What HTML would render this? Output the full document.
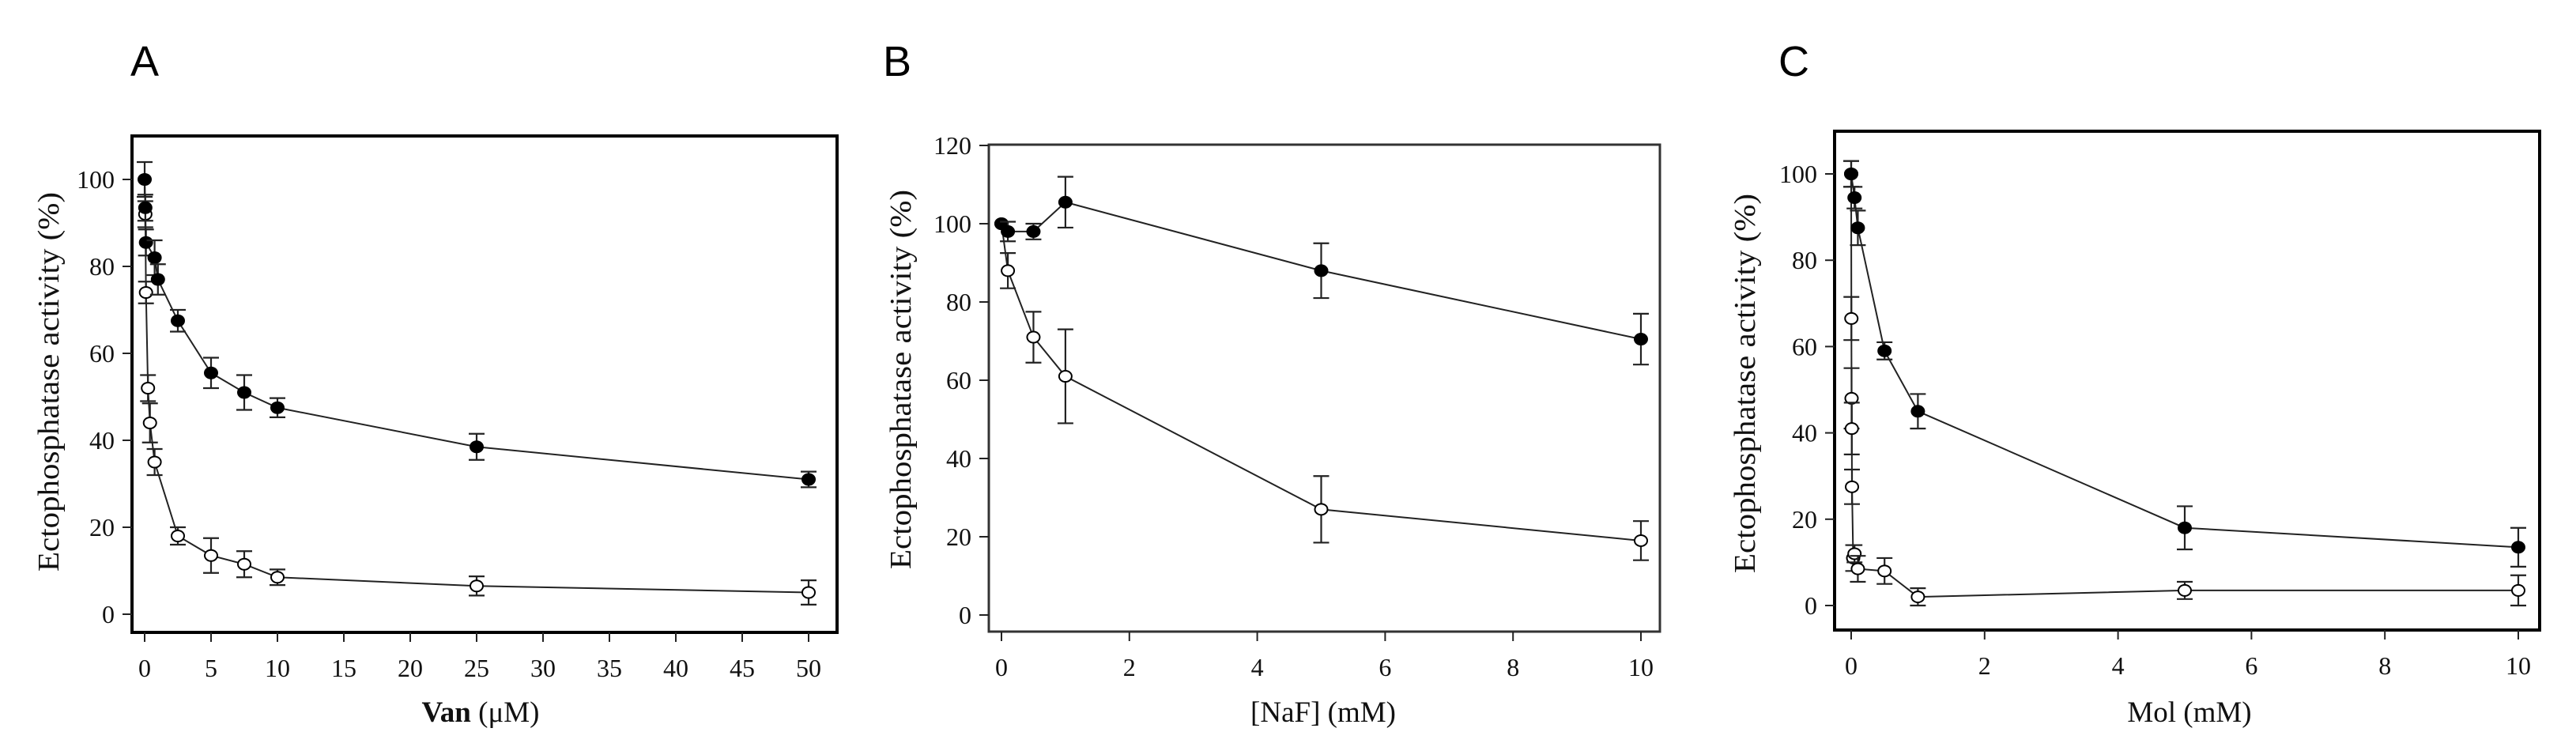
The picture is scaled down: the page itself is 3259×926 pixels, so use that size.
<!DOCTYPE html>
<html><head><meta charset="utf-8">
<style>
html,body{margin:0;padding:0;background:#fff;}
svg{display:block;}
text{font-family:"Liberation Serif",serif;fill:#111;}
.lbl{font-family:"Liberation Sans",sans-serif;font-size:54px;fill:#000;}
</style></head>
<body>
<svg id="fig" width="3259" height="926" viewBox="0 0 3259 926" xmlns="http://www.w3.org/2000/svg">
<text class="lbl" x="165" y="96">A</text>
<text class="lbl" x="1117" y="96">B</text>
<text class="lbl" x="2250" y="96">C</text>
</svg>
<script>
// Panel A data (Van, µM)
const aFilledX = [0, 0.05, 0.1, 0.75, 1, 2.5, 5, 7.5, 10, 25, 50];
const aFilledY = [100, 93.5, 85.5, 82, 77, 67.5, 55.5, 51, 47.5, 38.5, 31];
const aFilledErr = [4, 3, 3, 4, 3.5, 2.5, 3.5, 4, 2.2, 3, 1.8];
const aOpenX = [0.05, 0.1, 0.25, 0.4, 0.75, 2.5, 5, 7.5, 10, 25, 50];
const aOpenY = [92, 74, 52, 44, 35, 18, 13.5, 11.5, 8.5, 6.5, 5];
const aOpenErr = [3, 2.5, 3, 4.5, 3, 2, 4, 3, 1.8, 2.2, 2.8];
const aXTicks = [0, 5, 10, 15, 20, 25, 30, 35, 40, 45, 50];
const aYTicks = [0, 20, 40, 60, 80, 100];
// Panel B data (NaF, mM)
const bFilledX = [0, 0.1, 0.5, 1, 5, 10];
const bFilledY = [100, 98, 98, 105.5, 88, 70.5];
const bFilledErr = [0, 2.5, 2, 6.5, 7, 6.5];
const bOpenX = [0, 0.1, 0.5, 1, 5, 10];
const bOpenY = [100, 88, 71, 61, 27, 19];
const bOpenErr = [0, 4.5, 6.5, 12, 8.5, 5];
const bXTicks = [0, 2, 4, 6, 8, 10];
const bYTicks = [0, 20, 40, 60, 80, 100, 120];
// Panel C data (Mol, mM)
const cFilledX = [0, 0.05, 0.1, 0.5, 1, 5, 10];
const cFilledY = [100, 94.5, 87.5, 59, 45, 18, 13.5];
const cFilledErr = [3, 2.5, 4, 2, 4, 5, 4.5];
const cOpenX = [0, 0.003, 0.006, 0.009, 0.012, 0.03, 0.05, 0.1, 0.5, 1, 5, 10];
const cOpenY = [100, 66.5, 48, 41, 27.5, 11, 12, 8.5, 8, 2, 3.5, 3.5];
const cOpenErr = [3, 5, 7, 6, 4, 3, 2, 3, 3, 2, 2, 3.5];
const cXTicks = [0, 2, 4, 6, 8, 10];
const cYTicks = [0, 20, 40, 60, 80, 100];

const NS = 'http://www.w3.org/2000/svg';
const svg = document.getElementById('fig');
function mk(tag, attrs, parent) {
  const e = document.createElementNS(NS, tag);
  for (const k in attrs) e.setAttribute(k, attrs[k]);
  (parent || svg).appendChild(e);
  return e;
}

function panel(p) {
  const g = mk('g', {});
  
  
  const sx = v => p.x0 + (v - p.xmin) / (p.xmax - p.xmin) * (p.x1 - p.x0);
  const sy = v => p.y0 + (v - p.ymin) / (p.ymax - p.ymin) * (p.y1 - p.y0);
  const frame = mk('rect', {x: p.fl, y: p.ft, width: p.fr - p.fl, height: p.fb - p.ft, fill: 'none', stroke: p.fc, 'stroke-width': p.fw}, g);
  
  
  p.yt.forEach(v => {
    const y = sy(v);
    mk('line', {x1: p.fl - 12, x2: p.fl, y1: y, y2: y, stroke: '#222', 'stroke-width': 2}, g);
    const t = mk('text', {x: p.fl - 22, y: y + 11, 'text-anchor': 'end', 'font-size': 32}, g);
    t.textContent = v;
    
    
  });
  p.xt.forEach(v => {
    const x = sx(v);
    mk('line', {x1: x, x2: x, y1: p.fb, y2: p.fb + 12, stroke: '#222', 'stroke-width': 2}, g);
    const t = mk('text', {x: x, y: p.fb + 56, 'text-anchor': 'middle', 'font-size': 32}, g);
    t.textContent = v;
    
    
  });
  const xl = mk('text', {x: p.xlx, y: 913, 'text-anchor': 'middle', 'font-size': 37}, g);
  xl.innerHTML = p.xlabel;
  
  
  const yl = mk('text', {x: 0, y: 0, 'text-anchor': 'middle', 'font-size': 38, transform: `translate(${p.ylx},${p.yly}) rotate(-90)`, textLength: 480, lengthAdjust: 'spacingAndGlyphs'}, g);
  yl.textContent = 'Ectophosphatase activity (%)';
  
  

  [[p.ox, p.oy, p.oe, '#fff', 'open'], [p.fx, p.fy, p.fe, '#000', 'filled']].forEach(([xs, ys, es, fill, nm]) => {
    const pts = xs.map((x, i) => sx(x) + ',' + sy(ys[i])).join(' ');
    const line = mk('polyline', {points: pts, fill: 'none', stroke: '#222', 'stroke-width': 2}, g);
    
    
    xs.forEach((x, i) => {
      const cx = sx(x), cy = sy(ys[i]);
      if (es[i] > 0) {
        const t = sy(ys[i] + es[i]), b = sy(ys[i] - es[i]);
        const eb = mk('path', {d: `M${cx},${t}V${b}M${cx - 10},${t}H${cx + 10}M${cx - 10},${b}H${cx + 10}`, stroke: '#222', 'stroke-width': 2.2, fill: 'none'}, g);
        
        
      }
      const c = mk('ellipse', {cx: cx, cy: cy, rx: 8, ry: 7, fill: fill, stroke: '#000', 'stroke-width': 2}, g);
      
      
    });
  });
}

panel({name: 'panel-a-vanadate', fl: 167, fr: 1059, ft: 172, fb: 800, fw: 4, fc: '#000',
  x0: 183, x1: 1023, xmin: 0, xmax: 50, y0: 777, y1: 227, ymin: 0, ymax: 100,
  xt: aXTicks, yt: aYTicks, xlabel: '<tspan font-weight="bold">Van</tspan> (μM)', xlx: 608, ylx: 74, yly: 483,
  fx: aFilledX, fy: aFilledY, fe: aFilledErr, ox: aOpenX, oy: aOpenY, oe: aOpenErr});
panel({name: 'panel-b-naf', fl: 1251, fr: 2100, ft: 183, fb: 799, fw: 3, fc: '#333',
  x0: 1267, x1: 2076, xmin: 0, xmax: 10, y0: 778, y1: 184, ymin: 0, ymax: 120,
  xt: bXTicks, yt: bYTicks, xlabel: '[NaF] (mM)', xlx: 1674, ylx: 1152, yly: 480,
  fx: bFilledX, fy: bFilledY, fe: bFilledErr, ox: bOpenX, oy: bOpenY, oe: bOpenErr});
panel({name: 'panel-c-molybdate', fl: 2321, fr: 3213, ft: 166, fb: 797, fw: 4, fc: '#000',
  x0: 2342, x1: 3186, xmin: 0, xmax: 10, y0: 766, y1: 220, ymin: 0, ymax: 100,
  xt: cXTicks, yt: cYTicks, xlabel: 'Mol (mM)', xlx: 2770, ylx: 2220, yly: 485,
  fx: cFilledX, fy: cFilledY, fe: cFilledErr, ox: cOpenX, oy: cOpenY, oe: cOpenErr});
</script>
</body></html>
